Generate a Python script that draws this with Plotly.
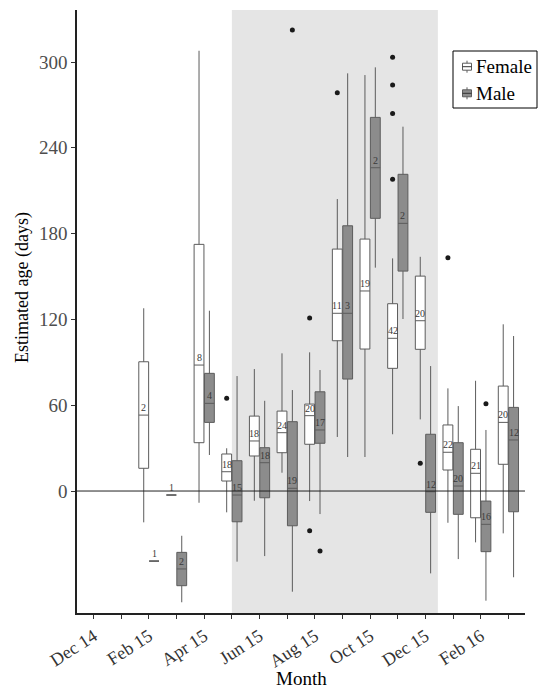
import plotly.graph_objects as go

# ---------------- data ----------------
months = ["Dec 14", "Jan 15", "Feb 15", "Mar 15", "Apr 15", "May 15", "Jun 15", "Jul 15",
          "Aug 15", "Sep 15", "Oct 15", "Nov 15", "Dec 15", "Jan 16", "Feb 16", "Mar 16"]
tick_labels = ["Dec 14", "", "Feb 15", "", "Apr 15", "", "Jun 15", "", "Aug 15", "",
               "Oct 15", "", "Dec 15", "", "Feb 16", ""]

sample_months = ["Feb 15", "Mar 15", "Apr 15", "May 15", "Jun 15", "Jul 15", "Aug 15",
                 "Sep 15", "Oct 15", "Nov 15", "Dec 15", "Jan 16", "Feb 16", "Mar 16"]

female_upper = [127.8, -2.8, 307.9, 29.9, 85.3, 96.3, 97.0, 204.2, 290.9, 162.7, 163.8, 71.8, 77.1, 116.6]
female_q3    = [90.4, -2.8, 172.5, 25.9, 52.4, 55.9, 60.8, 169.2, 176.2, 131.0, 150.3, 46.2, 29.2, 73.4]
female_med   = [53.1, -2.8, 88.1, 13.5, 35.0, 40.8, 52.7, 124.3, 139.9, 106.8, 119.1, 27.1, 12.4, 48.0]
female_q1    = [15.9, -2.8, 33.8, 7.0, 24.5, 26.8, 32.7, 105.1, 99.3, 85.8, 99.1, 14.7, -18.7, 18.7]
female_lower = [-21.9, -2.8, -8.2, -14.9, -6.8, 12.8, -7.0, 37.8, 23.8, 39.7, 50.1, -22.2, -35.9, -29.6]
female_n     = [2, 1, 8, 18, 18, 24, 20, 11, 19, 42, 20, 22, 21, 20]

male_upper = [-49.0, -31.3, 126.1, 80.4, 63.1, 70.6, 84.6, 292.1, 296.3, 254.8, 87.4, 59.4, 42.7, 108.4]
male_q3    = [-49.0, -42.9, 82.3, 21.2, 30.3, 48.5, 69.4, 185.5, 261.3, 221.5, 39.7, 33.8, -7.0, 58.5]
male_med   = [-49.0, -54.5, 61.3, -2.8, 19.8, 1.9, 42.7, 124.3, 226.1, 187.2, -0.5, 3.5, -23.3, 35.7]
male_q1    = [-49.0, -66.2, 48.0, -21.5, -4.7, -24.3, 33.4, 78.3, 190.7, 153.8, -14.9, -16.3, -42.4, -14.5]
male_lower = [-49.0, -77.8, 25.2, -49.4, -45.5, -70.4, -16.1, 23.8, 156.2, 120.3, -57.6, -47.6, -76.7, -60.3]
male_n     = [1, 2, 4, 15, 18, 19, 17, 3, 2, 2, 12, 20, 16, 12]

female_outlier_months = ["May 15", "Aug 15", "Aug 15", "Sep 15", "Nov 15", "Nov 15", "Nov 15", "Nov 15", "Dec 15", "Jan 16"]
female_outliers       = [64.8, 121.0, -27.8, 278.5, 303.3, 283.9, 264.1, 218.0, 19.4, 163.1]
male_outlier_months = ["Jul 15", "Aug 15", "Feb 16"]
male_outliers       = [322.4, -42.0, 61.0]

legend_labels = ["Female", "Male"]

shade_start_month = "May 15"
shade_end_month = "Dec 15"
shade_end_offset = 0.45   # months past "Dec 15"

# ---------------- layout helpers ----------------
W, H = 539, 690
ML, MR, MT, MB = 77, 14, 10, 77
PW, PH = W - ML - MR, H - MT - MB
DODGE = 0.1875
BOX_W = 0.356
SERIF = "Liberation Serif, Times New Roman, serif"
LINE_C = "#5c5c5c"
FILLS = ["white", "#8c8c8c"]
idx = {m: i for i, m in enumerate(months)}

def pos(mlist, off):
    return [idx[m] + off for m in mlist]

def px_x(p):  # pixel -> paper x
    return (p - ML) / PW

def px_y(p):  # pixel -> paper y
    return (H - MB - p) / PH

fig = go.Figure()

series = [
    ("Female", -DODGE, FILLS[0], female_upper, female_q3, female_med, female_q1, female_lower, female_n,
     female_outlier_months, female_outliers),
    ("Male", DODGE, FILLS[1], male_upper, male_q3, male_med, male_q1, male_lower, male_n,
     male_outlier_months, male_outliers),
]

for name, off, fill, up, q3, med, q1, lo, n, om, ov in series:
    fig.add_trace(go.Box(
        name=name, x=pos(sample_months, off),
        q1=q1, median=med, q3=q3, lowerfence=lo, upperfence=up,
        width=BOX_W, fillcolor=fill, whiskerwidth=0, boxpoints=False,
        line=dict(color=LINE_C, width=1), hoverinfo="skip", showlegend=False,
    ))
    fig.add_trace(go.Scatter(
        x=pos(om, off), y=ov, mode="markers", showlegend=False,
        marker=dict(color="#1a1a1a", size=5), hoverinfo="skip",
    ))
    for xm, ym, nn in zip(pos(sample_months, off), med, n):
        fig.add_annotation(x=xm, y=ym, text=str(nn), showarrow=False,
                           yanchor="bottom", xanchor="center", yshift=0,
                           font=dict(family=SERIF, size=10, color="#3a3a3a"))

# shaded period and zero line
fig.add_shape(type="rect", xref="x", yref="paper",
              x0=idx[shade_start_month], x1=idx[shade_end_month] + shade_end_offset,
              y0=0, y1=1, fillcolor="#e5e5e5", line=dict(width=0), layer="below")
fig.add_shape(type="line", xref="paper", yref="y", x0=0, x1=1, y0=0, y1=0,
              line=dict(color="#222222", width=1), layer="above")

# hand-drawn legend (keeps plot area fixed)
fig.add_shape(type="rect", xref="paper", yref="paper",
              x0=px_x(453), x1=px_x(537), y0=px_y(108), y1=px_y(51),
              fillcolor="white", line=dict(color="black", width=1), layer="above")
for k, (lab, fill) in enumerate(zip(legend_labels, FILLS)):
    cy = 66.7 + k * 26.6
    fig.add_shape(type="line", xref="paper", yref="paper",
                  x0=px_x(467), x1=px_x(467), y0=px_y(cy + 6), y1=px_y(cy - 6),
                  line=dict(color=LINE_C, width=1), layer="above")
    fig.add_shape(type="rect", xref="paper", yref="paper",
                  x0=px_x(462.5), x1=px_x(471.5), y0=px_y(cy + 3.5), y1=px_y(cy - 3.5),
                  fillcolor=fill, line=dict(color=LINE_C, width=1), layer="above")
    fig.add_shape(type="line", xref="paper", yref="paper",
                  x0=px_x(462.5), x1=px_x(471.5), y0=px_y(cy), y1=px_y(cy),
                  line=dict(color="#333333", width=1), layer="above")
    fig.add_annotation(text=lab, xref="paper", yref="paper", x=px_x(473.5), y=px_y(cy),
                       showarrow=False, xanchor="left", yanchor="middle",
                       font=dict(family=SERIF, size=19, color="black"))

fig.add_annotation(text="Month", xref="paper", yref="paper", x=0.5, y=px_y(678),
                   showarrow=False, xanchor="center", yanchor="middle",
                   font=dict(family=SERIF, size=19, color="black"))
fig.add_annotation(text="Estimated age (days)", xref="paper", yref="paper", x=px_x(22), y=px_y(288),
                   showarrow=False, textangle=-90, xanchor="center", yanchor="middle",
                   font=dict(family=SERIF, size=18, color="black"))

fig.update_layout(
    width=W, height=H,
    margin=dict(l=ML, r=MR, t=MT, b=MB),
    plot_bgcolor="white", paper_bgcolor="white",
    boxmode="overlay", showlegend=False,
    font=dict(family=SERIF),
    xaxis=dict(range=[-0.6, len(months) - 0.4], tickmode="array",
               tickvals=list(range(len(months))), ticktext=tick_labels,
               tickangle=-33, ticks="outside", ticklen=4, tickcolor="#333333",
               showline=True, linecolor="#222222", linewidth=1.5,
               showgrid=False, zeroline=False, automargin=False,
               tickfont=dict(family=SERIF, size=18, color="#333333")),
    yaxis=dict(range=[-85.3, 336.4], tickmode="array", tickvals=[0, 60, 120, 180, 240, 300],
               ticks="outside", ticklen=4, tickcolor="#333333",
               showline=True, linecolor="#222222", linewidth=1.5,
               showgrid=False, zeroline=False, automargin=False,
               tickfont=dict(family=SERIF, size=19, color="#4d4d4d")),
)

fig.write_html(
    "out.html",
    config={"displayModeBar": False},
    post_script="document.body.style.margin='0';document.body.style.overflow='hidden';"
                "window.dispatchEvent(new Event('resize'));",
)
